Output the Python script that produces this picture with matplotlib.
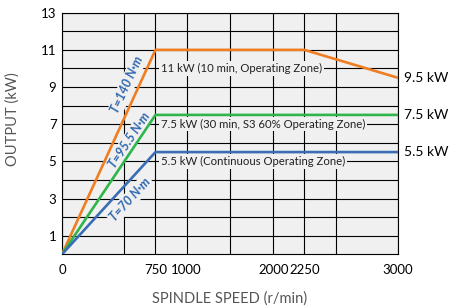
import numpy as np
import matplotlib.pyplot as plt

# data
speed = [0, 750, 2250, 3000]
out_10min = [0, 11, 11, 9.5]
speed_s3 = [0, 750, 3000]
out_30min = [0, 7.5, 7.5]
out_cont = [0, 5.5, 5.5]

x_ticks = [0, 750, 1000, 2000, 2250, 3000]
x_grid = [500, 750, 1000, 1500, 2000, 2250, 2500]
y_ticks = [1, 3, 5, 7, 9, 11, 13]
y_grid = list(range(1, 13))

zone_labels = ["11 kW (10 min, Operating Zone)",
               "7.5 kW (30 min, S3 60% Operating Zone)",
               "5.5 kW (Continuous Operating Zone)"]
zone_y = [10, 7, 5]
end_labels = ["9.5 kW", "7.5 kW", "5.5 kW"]
end_y = [9.5, 7.5, 5.5]
torque_labels = ["T=140 N·m", "T=95.5 N·m", "T=70 N·m"]

ORANGE = "#ef7d22"
GREEN = "#2fb54a"
BLUE = "#3a6db3"
TBLUE = "#2f68b0"
BG = "#f0f0f0"
GRAY = "#555555"

plt.rcParams["font.family"] = ["Lato", "DejaVu Sans"]

# axis between 1000 and 2000 is squeezed
XB = [0, 1000, 2000, 3000]
XD = [0, 1000, 1695, 2695]


def fwd(x):
    return np.interp(x, XB, XD)


def inv(x):
    return np.interp(x, XD, XB)


fig = plt.figure(figsize=(4.5, 3.06), dpi=100)
ax = fig.add_axes([0.1378, 0.169, 0.7462, 0.7895])
ax.set_facecolor(BG)
ax.set_xscale("function", functions=(fwd, inv))
ax.set_xlim(0, 3000)
ax.set_ylim(0, 13)

ax.set_xticks(x_ticks)
ax.set_xticks(x_grid, minor=True)
ax.set_yticks(y_ticks)
ax.set_yticks(y_grid, minor=True)
ax.grid(True, which="both", color="black", linewidth=0.8, zorder=1)
ax.set_axisbelow(True)
ax.tick_params(which="both", length=0, labelsize=9.5, colors="black")
ax.tick_params(axis="x", pad=7)
ax.tick_params(axis="y", pad=4)
for s in ax.spines.values():
    s.set_color("black")
    s.set_linewidth(0.8)

ax.plot(speed, out_10min, color=ORANGE, lw=1.9, zorder=5)
ax.plot(speed_s3, out_30min, color=GREEN, lw=1.9, zorder=5)
ax.plot(speed_s3, out_cont, color=BLUE, lw=1.9, zorder=5)

box = dict(boxstyle="square,pad=0.15", facecolor=BG, edgecolor="none")
for lab, y in zip(zone_labels, zone_y):
    ax.text(795, y, lab, fontsize=8.2, ha="left", va="center", color="#222222",
            bbox=box, zorder=3)

for lab, y in zip(end_labels, end_y):
    ax.text(1.019, y, lab, fontsize=10, ha="left", va="center", color="black",
            transform=ax.get_yaxis_transform())

# torque labels, rotated along the ramps
fig.canvas.draw()
t_pos = [(525, 9.15), (545, 6.15), (545, 2.95)]
t_peak = [11, 7.5, 5.5]
for lab, (tx, ty), pk in zip(torque_labels, t_pos, t_peak):
    p0 = ax.transData.transform((0, 0))
    p1 = ax.transData.transform((750, pk))
    ang = np.degrees(np.arctan2(p1[1] - p0[1], p1[0] - p0[0]))
    ax.text(tx, ty, lab, fontsize=9, fontstyle="italic", fontweight="bold",
            color=TBLUE, rotation=ang, rotation_mode="anchor",
            ha="center", va="center", bbox=box, zorder=3)

ax.set_xlabel("SPINDLE SPEED (r/min)", fontsize=10.5, color=GRAY)
ax.set_ylabel("OUTPUT (kW)", fontsize=10.5, color=GRAY)
ax.xaxis.set_label_coords(0.5, -0.155)
ax.yaxis.set_label_coords(-0.125, 0.56)

fig.savefig("out.png", dpi=100)
